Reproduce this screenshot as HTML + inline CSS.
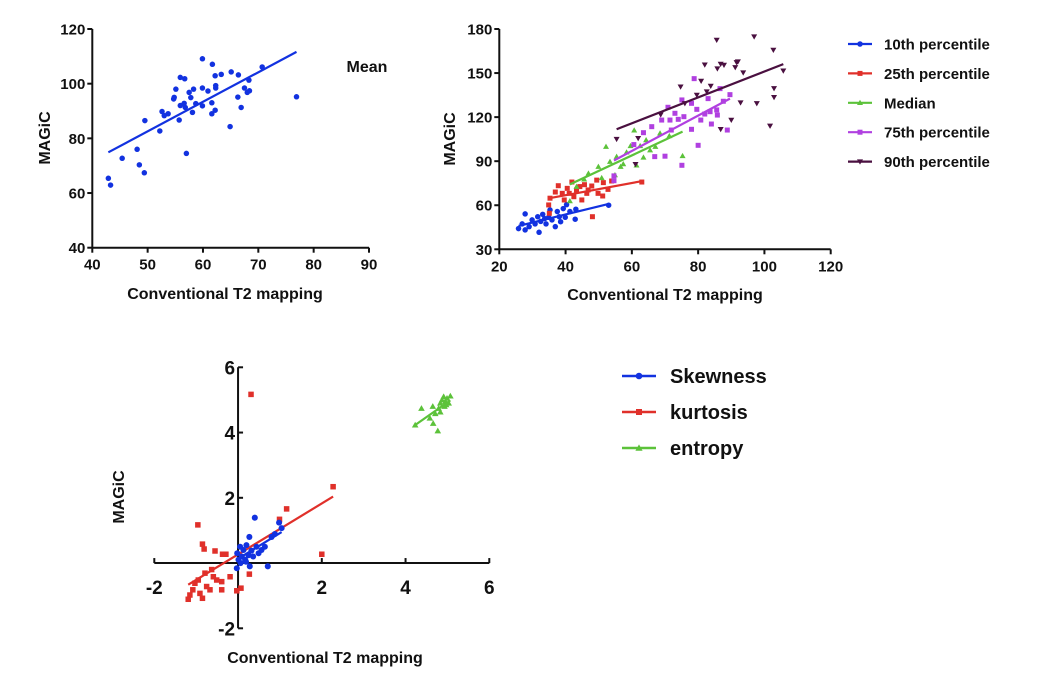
<!DOCTYPE html>
<html><head><meta charset="utf-8"><style>
body{margin:0;background:#fff;width:1038px;height:684px;overflow:hidden}
svg text{font-family:"Liberation Sans",Arial,sans-serif;font-weight:bold;fill:#111}
</style></head><body>
<svg id="svg" width="1038" height="684" xmlns="http://www.w3.org/2000/svg"></svg>
<script>
// ---- Chart 1 data (Mean) ----
const meanX=[42.9,43.3,45.4,48.1,48.5,49.4,49.5,52.2,52.6,53,53.7,54.7,54.8,55.1,55.7,55.9,55.9,56.7,56.6,56.8,57,57.5,57.8,58.1,58.3,58.7,59.9,59.9,59.9,60.9,61.6,61.6,61.7,62.2,62.3,62.3,62.2,63.3,64.9,65.1,66.3,66.4,66.9,67.5,68,68.3,68.4,70.7,76.9];
const meanY=[65.4,62.9,72.7,76,70.3,67.4,86.5,82.7,89.8,88.3,89,94.4,95,98,86.7,102.3,92,101.8,92.8,91.3,74.5,96.8,94.9,89.5,98,92.7,109.1,98.4,91.9,97.3,93,89,107.1,102.9,99.3,98.4,90.3,103.4,84.3,104.3,95.1,103.2,91.3,98.4,96.8,101.3,97.4,106.1,95.2];
const c1XTicks=[40,50,60,70,80,90];
const c1YTicks=[40,60,80,100,120];
// ---- Chart 2 data (percentiles) ----
const p10X=[25.8,26.9,27.8,27.8,29,29.9,30.8,31.6,32,32.5,33.1,33.7,34.1,34.9,35.3,35.9,36.9,37.5,38.1,38.5,39.3,39.9,40.3,41.3,42.9,43.1,53];
const p10Y=[44.1,47.3,54.1,43.2,45.4,50,47.3,52.2,41.6,49,53.8,50.9,47.3,51.8,56.8,50,45.4,55.7,52.2,48.8,57.7,51.8,60.4,55.7,50.5,57.3,60];
const p25X=[34.9,35.1,35.3,36.9,37.8,39,39.6,40.5,41.1,41.9,42.5,43.3,44.3,44.9,45.7,46.4,46.8,47.9,48.1,49.4,49.8,51.4,51.2,52.8,53.9,63];
const p25Y=[60.2,54.5,64.8,69,73.3,68.1,63.6,71.5,68.1,75.8,65.8,70.4,72.7,63.6,74,68.1,70.4,73.1,52.2,77.1,68.1,75.4,66.3,70.8,76.5,75.8];
const medX=[41.3,43.3,45.6,46.9,49.9,50.9,52.2,53.4,54.9,55.4,56.6,57.4,58.4,59.6,60.7,61.4,62.5,63.5,64.3,65.5,67.1,68.5,71.3,75.3];
const medY=[62.9,72.7,77.7,81.7,86.3,78.6,99.9,89.7,80.6,93.1,86.3,88.1,96.1,100.4,111.1,87.2,100.4,92.6,104.4,97.5,99.9,109,107.2,93.6];
const p75X=[54.6,54.6,60.6,63.5,66,66.9,69,70,70.9,71.5,71.9,73,74,75.1,75.7,78,78,78.8,79.6,80,80.8,82,83,83.6,84,85.6,85.8,86.6,87.6,88.8,89.6,75.1];
const p75Y=[80,76.7,101.3,109.4,113.5,93.1,118,93.4,126.7,118,111.2,122.6,118.5,131.7,120.3,129.4,111.7,146.2,125.3,100.8,118,122.1,132.6,123.7,115.3,124.9,121.4,139.4,130.8,111.2,135.3,87.2];
const p90X=[55.4,61.9,61.1,68.7,74.7,76,79.6,80.9,82,82.6,83.8,85.6,85.8,86.8,86.8,87.8,90,91.2,91.6,92,92.8,93.6,96.9,97.7,101.7,102.7,102.9,102.9,105.7];
const p90Y=[105,105.6,87.9,121.7,140.7,129.4,135.1,144.6,155.7,137.4,141.2,172.5,153,156.2,111.7,155.5,118,153.9,157.3,157.8,129.9,150.3,174.8,129.4,114,165.7,139.6,133.5,151.6];
const c2Names=["10th percentile","25th percentile","Median","75th percentile","90th percentile"];
const c2XTicks=[20,40,60,80,100,120];
const c2YTicks=[30,60,90,120,150,180];
// ---- Chart 3 data ----
const skX=[-0.03,-0.02,0.01,0.05,0.09,0.13,0.17,0.2,0.25,0.27,0.28,0.32,0.36,0.4,0.44,0.49,0.56,0.64,0.71,0.8,0.88,0.98,1.04,0.06,0.19];
const skY=[-0.16,0.3,0.1,0.5,0.2,0.4,0.1,0.55,0.24,0.8,-0.1,0.38,0.2,1.39,0.5,0.3,0.4,0.5,-0.1,0.8,0.89,1.24,1.07,0,0.04];
const kuX=[-1.19,-1.15,-1.08,-1.03,-0.95,-0.96,-0.91,-0.85,-0.85,-0.81,-0.79,-0.75,-0.67,-0.63,-0.55,-0.51,-0.39,-0.39,-0.37,-0.29,-0.19,-0.03,0.07,0.27,0.31,0.99,1.16,2,2.27,-0.59];
const kuY=[-1.11,-0.98,-0.82,-0.62,-0.52,1.17,-0.93,-1.08,0.58,0.43,-0.31,-0.72,-0.82,-0.2,0.37,-0.52,-0.57,-0.82,0.27,0.27,-0.42,-0.85,-0.77,-0.34,5.17,1.34,1.66,0.27,2.34,-0.42];
const enX=[4.23,4.38,4.58,4.66,4.77,4.65,4.79,4.83,4.87,4.91,4.95,4.99,5.03,5.07,4.93,4.83,4.71,4.97];
const enY=[4.23,4.74,4.44,4.28,4.05,4.8,4.74,4.9,5.0,5.1,4.95,5.05,4.9,5.12,4.8,4.63,4.58,4.85];
const c3Names=["Skewness","kurtosis","entropy"];
const c3XTicks=[-2,2,4,6];
const c3YTicks=[-2,2,4,6];

const NS="http://www.w3.org/2000/svg";
const svg=document.getElementById('svg');
function mk(tag,attrs,parent,text){const e=document.createElementNS(NS,tag);for(const k in attrs)e.setAttribute(k,attrs[k]);if(text!==undefined)e.textContent=text;(parent||svg).appendChild(e);return e;}
function scale(d0,d1,p0,p1){return v=>p0+(v-d0)/(d1-d0)*(p1-p0);}
function ols(xs,ys){const n=xs.length;let mx=0,my=0;for(let i=0;i<n;i++){mx+=xs[i];my+=ys[i];}mx/=n;my/=n;let sxy=0,sxx=0;for(let i=0;i<n;i++){sxy+=(xs[i]-mx)*(ys[i]-my);sxx+=(xs[i]-mx)**2;}const b=sxy/sxx;return [b,my-b*mx];}
function marker(g,shape,x,y,c,s){
  if(shape==='circle')return mk('circle',{cx:x,cy:y,r:s*0.55,fill:c},g);
  if(shape==='square')return mk('rect',{x:x-s/2,y:y-s/2,width:s,height:s,fill:c},g);
  if(shape==='tri')return mk('polygon',{points:`${x},${y-s*0.6} ${x-s*0.6},${y+s*0.45} ${x+s*0.6},${y+s*0.45}`,fill:c},g);
  return mk('polygon',{points:`${x},${y+s*0.6} ${x-s*0.6},${y-s*0.45} ${x+s*0.6},${y-s*0.45}`,fill:c},g);
}
function series(g,xs,ys,sx,sy,shape,c,s,name){
  const sg=mk('g',{},g);
  
  
  for(let i=0;i<xs.length;i++){const m=marker(sg,shape,sx(xs[i]),sy(ys[i]),c,s);
    
    }
  const [b,a]=ols(xs,ys);const x0=Math.min(...xs),x1=Math.max(...xs);
  const l=mk('line',{x1:sx(x0),y1:sy(a+b*x0),x2:sx(x1),y2:sy(a+b*x1),stroke:c,'stroke-width':2.2},g);
  
  
}
function axesStd(g,sx,sy,xt,yt,xl,xr,yb,yt0,fs){
  const ax=mk('g',{},g);
  
  
  mk('line',{x1:xl,y1:yb,x2:xr,y2:yb,stroke:'#111','stroke-width':2},ax);
  mk('line',{x1:xl,y1:yb,x2:xl,y2:yt0,stroke:'#111','stroke-width':2},ax);
  xt.forEach(v=>{const x=sx(v);mk('line',{x1:x,y1:yb,x2:x,y2:yb+5,stroke:'#111','stroke-width':2},ax);
    const t=mk('text',{x:x,y:yb+22,'text-anchor':'middle','font-size':fs},ax,v);
    
    });
  yt.forEach(v=>{const y=sy(v);mk('line',{x1:xl-5,y1:y,x2:xl,y2:y,stroke:'#111','stroke-width':2},ax);
    const t=mk('text',{x:xl-7,y:y+5.5,'text-anchor':'end','font-size':fs},ax,v);
    
    });
}
function title(g,x,y,txt,fs,rot,name){const t=mk('text',{x:x,y:y,'text-anchor':'middle','font-size':fs,transform:rot?`rotate(-90 ${x} ${y})`:''},g,txt);
  
  }

// Chart 1
const g1=mk('g',{});
const sx1=scale(40,90,92.3,369),sy1=scale(40,120,247.7,29);
axesStd(g1,sx1,sy1,c1XTicks,c1YTicks,92.3,369,247.7,29,15);
series(g1,meanX,meanY,sx1,sy1,'circle','#1232e0',5,'mean');
title(g1,225,299,'Conventional T2 mapping',16,false,'x-axis-title');
title(g1,50,138,'MAGiC',16,true,'y-axis-title');
title(g1,367,72,'Mean',16,false,'chart-label');

// Chart 2
const g2=mk('g',{});
const sx2=scale(20,120,499.3,830.7),sy2=scale(30,180,249.3,29);
axesStd(g2,sx2,sy2,c2XTicks,c2YTicks,499.3,830.7,249.3,29,15);
const cols2=['#1232e0','#e0302a','#5cc23a','#b040e0','#4a1040'];
const shp2=['circle','square','tri','square','inv'];
const xs2=[p10X,p25X,medX,p75X,p90X],ys2=[p10Y,p25Y,medY,p75Y,p90Y];
for(let i=0;i<5;i++)series(g2,xs2[i],ys2[i],sx2,sy2,shp2[i],cols2[i],5,'p'+i);
title(g2,665,300,'Conventional T2 mapping',16,false,'x-axis-title');
title(g2,455,139,'MAGiC',16,true,'y-axis-title');
for(let i=0;i<5;i++){const y=44+i*29.4;const lg=mk('g',{},g2);
  
  
  mk('line',{x1:848,y1:y,x2:872,y2:y,stroke:cols2[i],'stroke-width':2.2},lg);
  marker(lg,shp2[i],860,y,cols2[i],5);
  mk('text',{x:884,y:y+5.5,'font-size':15},lg,c2Names[i]);}

// Chart 3
const g3=mk('g',{});
const sx3=scale(-2,6,154.3,489.3),sy3=scale(-2,6,628.3,367.3);
const ax3=mk('g',{},g3);


const x0p=sx3(0),y0p=sy3(0);
mk('line',{x1:sx3(-2),y1:y0p,x2:sx3(6),y2:y0p,stroke:'#111','stroke-width':2},ax3);
mk('line',{x1:x0p,y1:sy3(-2),x2:x0p,y2:sy3(6),stroke:'#111','stroke-width':2},ax3);
c3XTicks.forEach(v=>{const x=sx3(v);mk('line',{x1:x,y1:y0p-5,x2:x,y2:y0p,stroke:'#111','stroke-width':2},ax3);
  const t=mk('text',{x:x,y:y0p+31,'text-anchor':'middle','font-size':19},ax3,v);
  
  });
c3YTicks.forEach(v=>{const y=sy3(v);mk('line',{x1:x0p,y1:y,x2:x0p+5,y2:y,stroke:'#111','stroke-width':2},ax3);
  const t=mk('text',{x:x0p-3,y:y+7,'text-anchor':'end','font-size':19},ax3,v);
  
  });
const cols3=['#1232e0','#e0302a','#5cc23a'],shp3=['circle','square','tri'];
series(g3,kuX,kuY,sx3,sy3,'square','#e0302a',5.5,'kurtosis');
series(g3,skX,skY,sx3,sy3,'circle','#1232e0',5.5,'skewness');
series(g3,enX,enY,sx3,sy3,'tri','#5cc23a',5.5,'entropy');
title(g3,325,663,'Conventional T2 mapping',16,false,'x-axis-title');
title(g3,124,497,'MAGiC',16,true,'y-axis-title');
for(let i=0;i<3;i++){const y=376+i*36;const lg=mk('g',{},g3);
  
  
  mk('line',{x1:622,y1:y,x2:656,y2:y,stroke:cols3[i],'stroke-width':2.5},lg);
  marker(lg,shp3[i],639,y,cols3[i],6);
  mk('text',{x:670,y:y+7,'font-size':20},lg,c3Names[i]);}
</script>
</body></html>
